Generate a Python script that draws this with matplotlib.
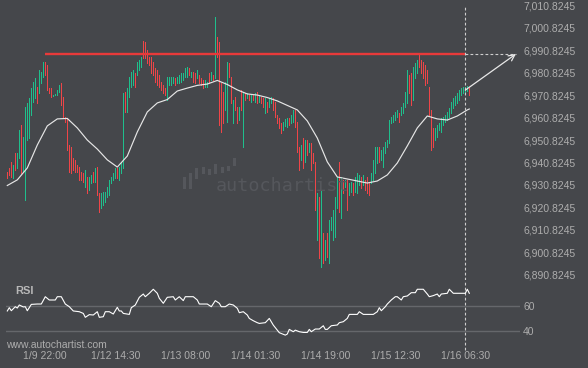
import matplotlib
matplotlib.use("Agg")
import matplotlib.pyplot as plt
import numpy as np

# 30 min candles, index 0 .. 231
opens = [
    6936.6, 6938.4, 6941.1, 6934.0, 6945.1, 6938.4, 6942.8, 6957.5, 6936.6, 6936.6,
    6950.8, 6951.7, 6961.9, 6967.7, 6969.5, 6974.4, 6971.7, 6976.2, 6978.8, 6985.5,
    6984.2, 6973.9, 6973.9, 6970.6, 6971.0, 6970.8, 6972.2, 6976.2, 6969.9, 6961.0,
    6960.6, 6948.6, 6947.7, 6942.8, 6942.0, 6939.7, 6938.8, 6936.6, 6936.2, 6930.0,
    6934.4, 6928.6, 6931.7, 6936.6, 6932.2, 6938.8, 6927.3, 6920.6, 6921.9, 6923.3,
    6925.5, 6926.4, 6931.7, 6933.0, 6934.0, 6938.4, 6933.0, 6936.2, 6938.4, 6972.2,
    6963.3, 6969.9, 6974.4, 6975.3, 6980.6, 6979.7, 6981.9, 6983.3, 6993.9, 6994.4,
    6990.8, 6987.7, 6987.7, 6985.5, 6982.8, 6981.9, 6979.7, 6976.6, 6975.3, 6973.9,
    6975.3, 6975.3, 6975.3, 6976.2, 6978.4, 6976.2, 6976.2, 6976.6, 6977.5, 6978.8,
    6978.8, 6982.8, 6978.8, 6981.0, 6980.6, 6978.4, 6979.7, 6978.4, 6977.5, 6974.4,
    6974.4, 6980.6, 6977.5, 6979.7, 6978.4, 6996.6, 6994.4, 6976.2, 6972.2, 6964.2,
    6958.8, 6985.0, 6978.8, 6958.4, 6969.9, 6965.5, 6959.7, 6973.0, 6968.6, 6971.7,
    6969.5, 6970.8, 6967.7, 6970.8, 6967.7, 6972.2, 6967.7, 6969.9, 6969.5, 6962.8,
    6967.7, 6965.5, 6967.3, 6969.5, 6967.7, 6961.9, 6960.6, 6958.4, 6955.3, 6957.0,
    6956.6, 6960.6, 6958.4, 6958.8, 6964.2, 6958.8, 6947.7, 6942.0, 6951.7, 6941.1,
    6950.8, 6945.5, 6949.5, 6945.1, 6941.1, 6906.4, 6925.5, 6894.4, 6909.5, 6897.5,
    6909.5, 6896.2, 6910.8, 6906.4, 6907.7, 6920.6, 6941.1, 6916.2, 6933.0, 6930.0,
    6933.0, 6926.4, 6927.7, 6931.7, 6927.7, 6927.3, 6930.8, 6934.4, 6930.8, 6933.0,
    6934.4, 6932.2, 6931.7, 6933.0, 6936.2, 6940.6, 6947.7, 6942.0, 6938.8, 6945.1,
    6947.7, 6949.5, 6958.4, 6958.8, 6959.7, 6961.0, 6962.8, 6961.9, 6962.8, 6965.5,
    6967.3, 6979.7, 6980.6, 6968.6, 6978.4, 6980.6, 6988.6, 6986.4, 6985.5, 6984.2,
    6981.9, 6974.4, 6964.2, 6956.2, 6950.8, 6952.2, 6955.3, 6954.4, 6957.5, 6958.8,
    6959.7, 6961.0, 6962.8, 6965.0, 6966.4, 6967.3, 6968.6, 6970.8, 6971.7, 6972.2,
    6972.6, 6973.9,
]
closes = [
    6934.0, 6935.3, 6934.4, 6939.7, 6937.5, 6945.1, 6955.3, 6936.2, 6952.2, 6965.5,
    6967.3, 6969.5, 6973.9, 6976.6, 6978.4, 6967.3, 6981.9, 6981.0, 6985.5, 6979.7,
    6973.0, 6971.7, 6969.9, 6971.0, 6971.3, 6973.0, 6975.3, 6966.4, 6960.6, 6958.8,
    6946.4, 6936.6, 6936.2, 6937.5, 6936.6, 6936.6, 6933.0, 6933.0, 6932.2, 6937.5,
    6927.3, 6934.4, 6935.3, 6932.2, 6938.4, 6926.4, 6918.8, 6927.3, 6927.7, 6927.7,
    6930.0, 6933.0, 6934.4, 6936.2, 6938.4, 6934.0, 6938.8, 6940.6, 6971.7, 6963.3,
    6973.9, 6978.8, 6981.0, 6981.9, 6974.4, 6985.5, 6986.4, 6987.7, 6987.3, 6987.3,
    6985.0, 6984.2, 6980.6, 6979.7, 6976.6, 6975.3, 6974.4, 6973.0, 6971.7, 6970.8,
    6978.8, 6978.8, 6978.8, 6978.8, 6975.3, 6978.8, 6979.7, 6980.6, 6980.6, 6982.8,
    6983.3, 6979.7, 6981.0, 6976.6, 6976.2, 6981.9, 6976.2, 6975.3, 6973.9, 6977.5,
    6976.6, 6976.2, 6981.0, 6977.5, 6988.6, 6987.7, 6957.5, 6954.4, 6958.4, 6976.6,
    6985.5, 6978.8, 6967.3, 6968.6, 6964.2, 6958.4, 6965.5, 6964.2, 6971.7, 6968.6,
    6971.7, 6968.6, 6970.8, 6968.6, 6971.7, 6967.3, 6970.8, 6967.3, 6965.5, 6969.5,
    6963.3, 6969.5, 6969.9, 6964.2, 6961.0, 6958.4, 6956.2, 6953.9, 6958.8, 6960.2,
    6960.6, 6957.5, 6961.9, 6964.2, 6956.6, 6945.5, 6937.5, 6948.6, 6938.4, 6950.8,
    6944.2, 6949.5, 6937.5, 6940.6, 6919.7, 6927.3, 6898.4, 6928.6, 6896.2, 6906.4,
    6898.8, 6915.3, 6916.6, 6919.7, 6925.5, 6934.4, 6918.8, 6934.4, 6927.3, 6933.0,
    6919.7, 6931.7, 6932.2, 6926.4, 6934.4, 6936.2, 6935.3, 6929.5, 6935.3, 6928.6,
    6927.3, 6926.4, 6936.2, 6942.0, 6947.7, 6947.7, 6941.1, 6946.4, 6947.7, 6950.0,
    6950.8, 6959.7, 6961.0, 6961.9, 6963.3, 6964.2, 6958.8, 6965.5, 6967.3, 6972.2,
    6981.9, 6971.7, 6966.4, 6983.3, 6985.0, 6986.4, 6983.3, 6980.6, 6978.4, 6975.3,
    6976.2, 6961.9, 6946.4, 6947.7, 6956.2, 6957.5, 6958.4, 6960.6, 6961.0, 6961.9,
    6963.3, 6965.0, 6967.7, 6969.5, 6970.4, 6971.7, 6973.0, 6973.9, 6974.4, 6974.4,
    6974.8, 6970.8,
]
# long wicks
wick_idx = [9, 68, 80, 104, 118]
wick_price = [6924.2, 6994.8, 6968.6, 7005.5, 6947.7]

# moving average, every 5th candle + last
ma_idx = list(range(0, 231, 5)) + [231]
ma_vals = [
    6930.6, 6933.1, 6938.4, 6948.6, 6957.1, 6960.2, 6960.4, 6956.2, 6950.8, 6946.8,
    6942.0, 6938.8, 6943.7, 6954.4, 6963.3, 6967.3, 6968.8, 6972.6, 6973.9, 6975.1,
    6975.7, 6977.3, 6975.5, 6973.1, 6971.3, 6970.8, 6969.7, 6968.2, 6966.2, 6964.2,
    6959.3, 6951.7, 6941.1, 6934.4, 6933.5, 6932.6, 6931.7, 6932.6, 6935.3, 6940.6,
    6948.2, 6956.2, 6961.5, 6960.2, 6959.7, 6961.5, 6964.2, 6964.6,
]

rsi_idx = [
    0, 1, 2, 4, 5, 6, 8, 9, 10, 12, 15, 17, 19, 21, 24, 25, 27, 29, 31, 33,
    36, 38, 39, 41, 43, 45, 46, 48, 49, 51, 53, 55, 56, 57, 58, 61, 62, 64, 66, 68,
    69, 71, 73, 75, 76, 78, 80, 83, 84, 86, 88, 89, 93, 95, 96, 100, 102, 104, 106, 107,
    109, 111, 113, 115, 116, 118, 120, 121, 123, 125, 126, 129, 131, 133, 135, 136, 139, 140, 141, 143,
    144, 146, 148, 150, 151, 152, 154, 156, 158, 159, 160, 162, 165, 166, 168, 170, 171, 175, 176, 178,
    181, 183, 185, 186, 187, 189, 190, 192, 194, 195, 197, 198, 200, 202, 204, 205, 208, 210, 211, 213,
    215, 216, 217, 220, 221, 223, 229, 230, 231,
]
rsi_vals = [
    56.2, 58.9, 56.4, 59.7, 58.6, 61.1, 59.5, 59.7, 56.4, 61.6, 61.9, 61.9, 67.9, 65.2, 65.2, 67.9, 67.9, 61.9, 59.7, 56.2,
    55.6, 54.2, 51.0, 53.2, 52.9, 55.6, 51.0, 51.5, 55.6, 55.6, 53.7, 59.2, 56.2, 56.2, 54.2, 53.4, 58.9, 61.1, 67.4, 70.1,
    67.9, 70.7, 74.0, 70.7, 66.6, 62.5, 67.4, 67.9, 65.2, 67.9, 64.7, 67.9, 67.9, 65.2, 61.9, 61.9, 59.7, 64.7, 62.5, 59.7,
    59.7, 61.9, 61.1, 58.4, 54.8, 55.6, 52.9, 50.1, 48.2, 46.6, 46.0, 46.6, 50.1, 44.6, 40.5, 38.4, 36.4, 37.3, 41.1, 39.2,
    40.5, 39.2, 38.6, 38.6, 41.1, 39.2, 41.4, 41.4, 44.1, 41.1, 41.1, 44.1, 44.7, 46.6, 47.4, 50.1, 53.4, 53.4, 55.6, 53.4,
    53.4, 53.4, 55.6, 58.9, 56.4, 59.7, 61.9, 65.2, 67.9, 67.9, 65.2, 67.9, 68.5, 71.2, 71.2, 74.0, 74.0, 70.1, 67.9, 68.8,
    70.1, 67.9, 70.1, 70.7, 74.0, 70.7, 70.7, 74.0, 70.7,
]

price_ticks = [6890.8245, 6900.8245, 6910.8245, 6920.8245, 6930.8245, 6940.8245, 6950.8245,
               6960.8245, 6970.8245, 6980.8245, 6990.8245, 7000.8245, 7010.8245]
time_idx = [19, 54, 89, 124, 159, 194, 229]
time_labels = ['1/9 22:00', '1/12 14:30', '1/13 08:00', '1/14 01:30',
               '1/14 19:00', '1/15 12:30', '1/16 06:30']

level = 6989.05
level_start, signal_idx = 19, 229
target_idx, start_price = 254.3, 6973.0

logo_low = [3, 3, 13, 18, 17, 18, 19, 21, 26]
logo_high = [15, 19, 24, 25, 23, 28, 25, 26, 34]

BG = '#45474b'
TXT = '#adadad'
GREEN = '#1fbf8c'
RED = '#ee4548'
W, H = 588, 368

plt.rcParams['font.family'] = ['Liberation Sans', 'DejaVu Sans']


def px_rect(x0, y0, x1, y1):
    return [x0 / W, 1 - y1 / H, (x1 - x0) / W, (y1 - y0) / H]


fig = plt.figure(figsize=(W / 100, H / 100), dpi=100, facecolor=BG)
ax = fig.add_axes(px_rect(6, 0, 520, 280))
ax_r = fig.add_axes(px_rect(6, 280, 520, 345))

# watermark
logo = fig.add_axes(px_rect(181, 154, 238, 192))
logo.bar(range(len(logo_low)), np.subtract(logo_high, logo_low), bottom=logo_low,
         width=0.45, color='#55575c')
logo.set_xlim(-0.5, len(logo_low) - 0.5)
logo.set_ylim(0, 38)
logo.axis('off')
fig.text(216 / W, 1 - 186 / H, 'autochartist', color='#55575c', fontsize=13.2,
         family='DejaVu Sans Mono', va='center', ha='left')

for a in (ax, ax_r):
    a.set_facecolor('none')
    for s in a.spines.values():
        s.set_visible(False)
    a.set_xlim(-0.65, 256.35)
    a.tick_params(length=0, colors=TXT, labelsize=7.5)
    a.yaxis.tick_right()

ax.set_zorder(2)
ax.set_ylim(6888.6, 7013.05)

o = np.array(opens)
c = np.array(closes)
idx = np.arange(len(o))
cols = np.where(c >= o, GREEN, RED)
for i, p in zip(wick_idx, wick_price):
    ax.vlines(i, min(p, o[i], c[i]), max(p, o[i], c[i]), color=cols[i], lw=0.6,
              antialiased=False)
ax.vlines(idx, o, c, colors=cols, lw=0.6, antialiased=False)

ax.plot(ma_idx, ma_vals, color='#e6e6e6', lw=0.85)
ax.hlines(level, level_start, signal_idx, color='#e83a3a', lw=1.7)
ax.hlines(level, signal_idx, target_idx, color='#cfcfcf', lw=0.8, linestyles=(0, (2.5, 2)))
ax.axvline(signal_idx, ymax=0.982, color='#cfcfcf', lw=0.8, ls=(0, (2.5, 2)))
ax.annotate('', xy=(target_idx, level), xytext=(signal_idx, start_price),
            arrowprops=dict(arrowstyle='->', color='#e8e8e8', lw=0.9,
                            mutation_scale=11, shrinkA=0, shrinkB=0))

ax.set_xticks([])
ax.set_yticks(price_ticks)
ax.set_yticklabels(['{:,.4f}'.format(v) for v in price_ticks])
ax.tick_params(axis='y', pad=2.2)

# RSI panel
ax_r.set_ylim(28.3, 81.6)
ax_r.axhline(60, color='#65676b', lw=1)
ax_r.axhline(40, color='#65676b', lw=1)
ax_r.axvline(signal_idx, ymin=-0.08, color='#cfcfcf', lw=0.8, ls=(0, (2.5, 2)), clip_on=False)
ax_r.plot(rsi_idx, rsi_vals, color='white', lw=0.8)
ax_r.set_yticks([40, 60])
ax_r.tick_params(axis='y', pad=2.2)
ax_r.set_xticks(time_idx)
ax_r.set_xticklabels(time_labels)
ax_r.tick_params(axis='x', pad=4.5)

fig.text(15 / W, 1 - 291 / H, 'RSI', color='#b8b8b8', fontsize=8, fontweight='bold', va='center')
fig.text(6 / W, 1 - 345 / H, 'www.autochartist.com', color=TXT, fontsize=7.5, va='center')

fig.savefig('out.png', dpi=100, facecolor=BG)
